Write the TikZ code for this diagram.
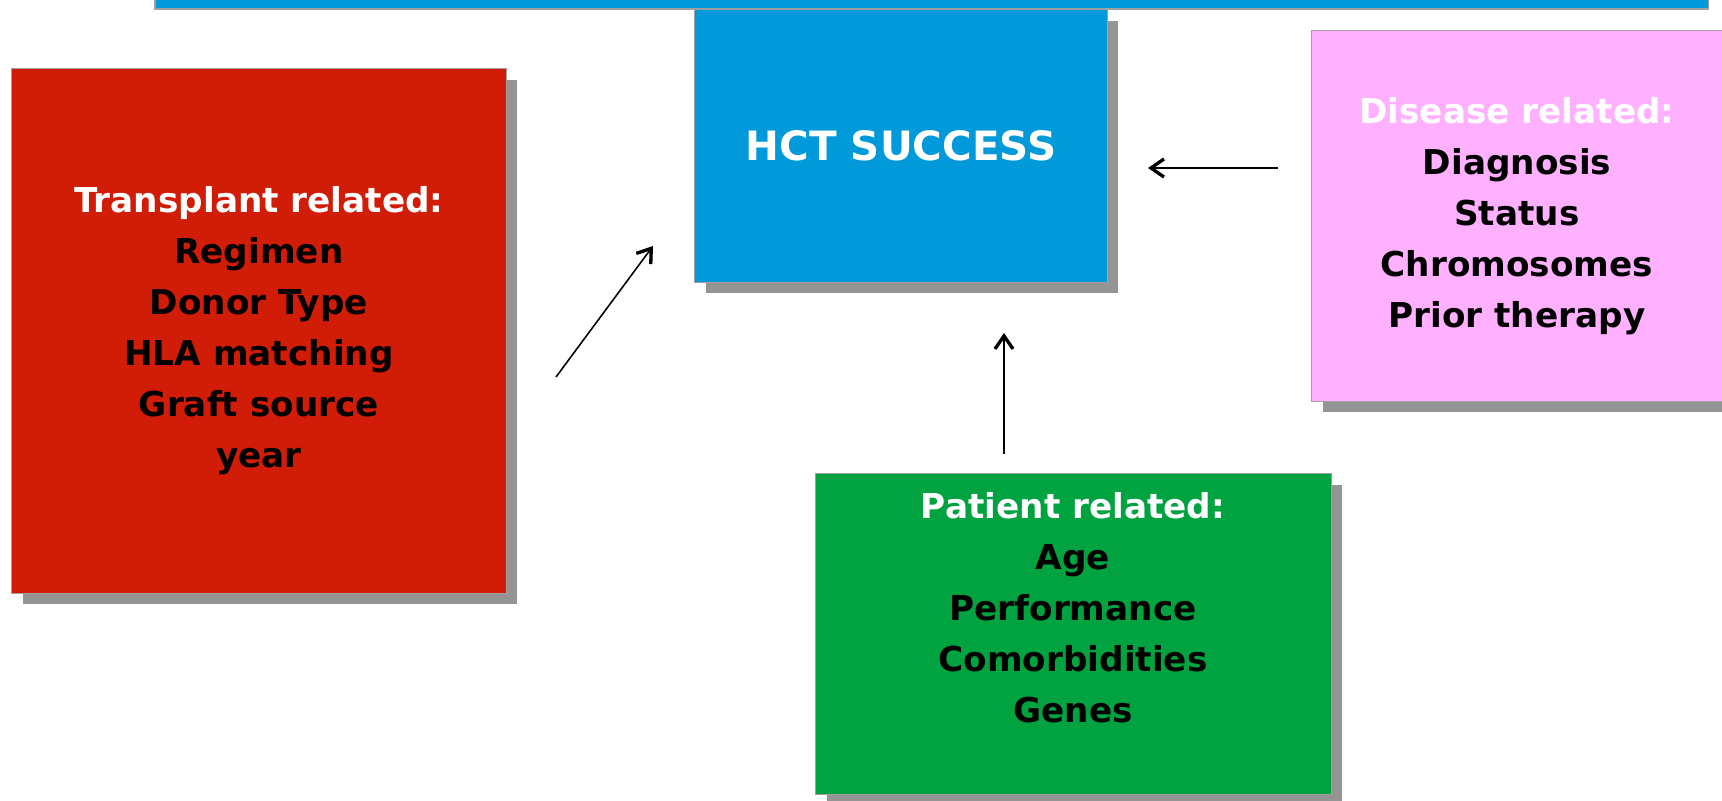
\documentclass[tikz,border=0pt]{standalone}
\usepackage{fontspec}
\setmainfont{DejaVu Sans}
\usetikzlibrary{arrows.meta,positioning,shadows,calc}
\definecolor{HctBlue}{HTML}{0099DA}
\definecolor{TransRed}{HTML}{D11C07}
\definecolor{DiseasePink}{HTML}{FFB0FF}
\definecolor{PatientGreen}{HTML}{00A33F}
\definecolor{ShadowGray}{HTML}{949494}
\definecolor{EdgeGray}{HTML}{A0A0A0}
\newcommand{\hdr}[1]{\textcolor{white}{#1}}
\tikzset{
  factorbox/.style={draw=EdgeGray,line width=0.6pt,anchor=north west,inner sep=0pt,
              drop shadow={shadow xshift=0.22cm,shadow yshift=-0.22cm,fill=ShadowGray,opacity=1}},
  boxtext/.style={align=center,font=\bfseries\fontsize{19.5}{29}\selectfont},
  flow/.style={-{Straight Barb[length=2.6mm,width=3.6mm,line width=1.9pt]},line width=0.9pt}
}

\begin{document}
\begin{tikzpicture}[x=0.02cm,y=-0.02cm]
  \fill[white] (0,0) rectangle (1722,801);
  \useasboundingbox (0,0) rectangle (1722,801);

  \node[draw=EdgeGray,line width=1pt,fill=HctBlue,anchor=south west,inner sep=0pt,
        minimum width=31.08cm,minimum height=1cm] (topbar) at (154,10) {};
  \node[factorbox,fill=HctBlue,minimum width=8.26cm,minimum height=5.46cm,
        boxtext,font=\bfseries\fontsize{23}{29}\selectfont,text=white] (hct) at (694,9) {HCT SUCCESS};
  \node[factorbox,fill=TransRed,minimum width=9.9cm,minimum height=10.5cm,boxtext] (transplant) at (11,68)
    {\hdr{Transplant related:}\\Regimen\\Donor Type\\HLA matching\\Graft source\\year};
  \node[factorbox,fill=DiseasePink,minimum width=8.22cm,minimum height=7.42cm,boxtext] (disease) at (1311,30)
    {\hdr{Disease related:}\\Diagnosis\\Status\\Chromosomes\\Prior therapy};
  \node[factorbox,fill=PatientGreen,minimum width=10.32cm,minimum height=6.42cm] (patient) at (815,473) {};
  \node[boxtext] (patienttxt) at (1073,608)
    {\hdr{Patient related:}\\Age\\Performance\\Comorbidities\\Genes};

  % arrow ends, free of the boxes
  \coordinate (tstart) at (556,377);
  \coordinate (tend) at (653,246);
  \coordinate (dstart) at (1278,168);
  \coordinate (dend) at (1148,168);
  \coordinate (pstart) at (1004,454);
  \coordinate (pend) at (1004,333);

  \draw[flow] (tstart) -- (tend);
  \draw[flow] (dstart) -- (dend);
  \draw[flow] (pstart) -- (pend);
\end{tikzpicture}
\end{document}
